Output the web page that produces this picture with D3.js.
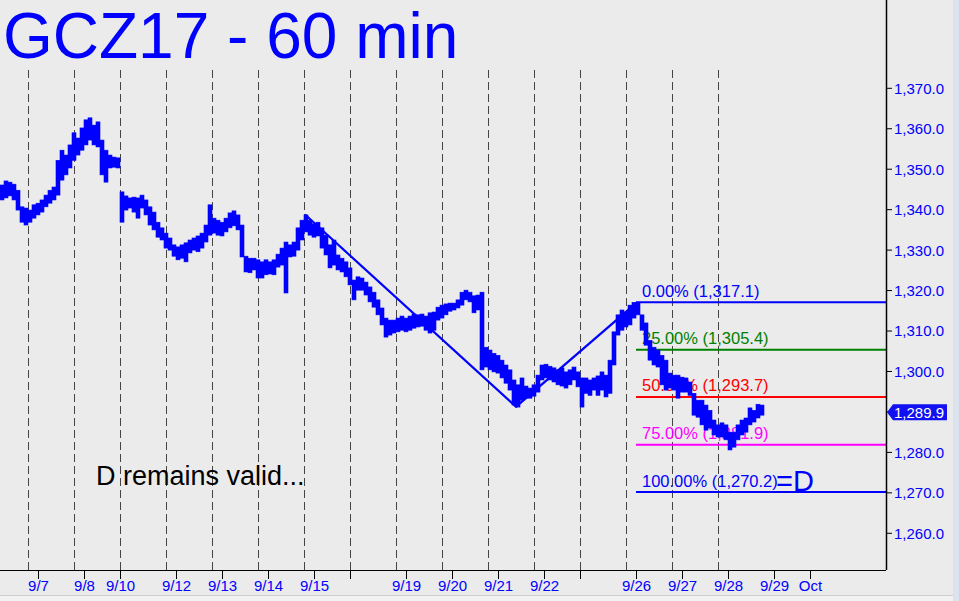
<!DOCTYPE html>
<html><head><meta charset="utf-8">
<script src="https://cdn.jsdelivr.net/npm/d3@7"></script>
<style>html,body{margin:0;padding:0;background:#ebebeb;overflow:hidden}svg{display:block}</style>
</head><body>
<script>
// ---- DATA ----
// 2-hour bars (high / low)
const hi = [1346.1,1347.1,1346.8,1346.3,1344.8,1340.7,1340.4,1339.9,1341.2,1341.6,1342.4,1343.6,1344.8,1345.6,1352.2,1354.7,1353.5,1356.0,1359.0,1357.7,
1360.2,1362.2,1362.7,1360.9,1361.7,1357.2,1354.7,1353.5,1353.0,1352.8,1344.4,1343.4,1342.9,1343.1,1342.9,1343.6,1342.4,1340.7,1339.4,1336.9,
1335.5,1334.2,1333.0,1331.3,1330.8,1331.3,1331.8,1332.5,1333.0,1333.5,1334.2,1336.2,1341.2,1337.9,1337.4,1336.9,1337.9,1339.2,1339.7,1338.7,
1336.2,1328.5,1328.0,1328.0,1327.6,1327.1,1327.6,1327.1,1327.6,1329.0,1330.5,1332.0,1331.3,1332.0,1335.5,1337.4,1338.7,1337.4,1336.5,1336.9,
1335.5,1333.7,1331.3,1332.5,1328.8,1328.0,1327.1,1325.6,1322.6,1323.4,1323.1,1322.1,1320.9,1319.6,1317.7,1315.7,1313.2,1312.7,1312.7,1313.2,
1313.7,1313.2,1313.7,1314.2,1314.0,1314.2,1313.7,1314.5,1314.7,1315.9,1316.4,1316.7,1316.9,1316.9,1317.7,1319.6,1320.1,1319.6,1318.7,1318.9,
1319.6,1306.0,1305.3,1304.5,1304.0,1302.8,1301.6,1300.4,1297.9,1296.7,1298.4,1296.4,1295.9,1296.7,1299.1,1301.6,1301.8,1301.3,1300.9,1300.4,
1300.9,1299.9,1300.4,1301.1,1299.9,1298.4,1298.4,1297.9,1298.4,1298.9,1299.9,1299.1,1302.8,1309.8,1314.0,1315.2,1314.7,1316.4,1317.1,1317.1,
1314.0,1312.0,1307.7,1306.0,1305.3,1304.0,1302.8,1299.6,1299.1,1299.1,1298.6,1298.4,1297.4,1294.6,1292.9,1292.9,1291.7,1290.4,1288.0,1286.8,
1287.3,1286.8,1285.0,1285.0,1286.8,1288.0,1288.5,1291.0,1290.4,1291.9,1291.7];
const lo = [1342.4,1342.9,1343.4,1342.4,1339.9,1336.9,1336.2,1336.9,1337.9,1338.7,1339.4,1340.7,1341.6,1342.4,1343.6,1347.3,1348.6,1350.3,1352.2,1353.5,
1354.7,1356.0,1357.2,1356.0,1355.5,1348.6,1346.8,1350.3,1350.5,1350.3,1336.9,1339.9,1340.4,1339.4,1337.9,1340.4,1338.7,1336.2,1335.0,1333.2,
1332.5,1330.5,1330.0,1328.5,1327.6,1328.0,1327.1,1329.3,1330.0,1329.6,1330.5,1332.0,1333.7,1334.2,1333.7,1333.5,1334.5,1335.5,1336.0,1335.0,
1328.3,1324.6,1324.4,1325.1,1323.1,1323.1,1323.9,1324.1,1323.9,1325.8,1326.3,1319.4,1328.3,1328.5,1330.0,1332.5,1334.5,1333.7,1333.2,1333.5,
1330.5,1328.8,1325.6,1326.3,1325.1,1324.6,1323.4,1321.4,1317.7,1320.1,1320.1,1318.9,1317.2,1315.9,1314.0,1311.5,1308.5,1309.0,1309.5,1309.8,
1310.2,1309.8,1310.2,1310.7,1311.0,1311.2,1310.2,1309.5,1310.2,1312.7,1313.2,1314.0,1314.9,1315.2,1315.7,1316.4,1317.7,1317.2,1314.5,1315.2,
1300.4,1301.1,1300.4,1299.9,1299.6,1298.4,1297.1,1295.4,1291.7,1291.2,1292.9,1293.4,1293.4,1293.9,1294.9,1297.9,1298.4,1297.9,1297.4,1296.7,
1296.4,1295.9,1296.7,1297.9,1296.2,1291.2,1294.6,1294.1,1295.4,1294.1,1295.4,1293.7,1294.6,1301.6,1309.0,1310.2,1311.0,1311.5,1313.2,1314.0,
1310.2,1306.5,1302.8,1301.6,1301.1,1296.7,1295.4,1295.9,1295.4,1293.4,1294.9,1294.9,1294.1,1289.2,1288.7,1286.8,1285.5,1286.0,1284.3,1283.8,
1283.8,1283.1,1280.6,1281.3,1283.1,1284.3,1285.0,1286.8,1287.5,1288.5,1289.2];
const lastPrice = 1289.9;

// x axis (bar index units)
const tickLabels = ["9/7","9/8","9/10","9/12","9/13","9/14","9/15","","9/19","9/20","9/21","9/22","","9/26","9/27","9/28","9/29","Oct"];
const tickBars   = [9.5,21,30,44,55.5,67,78.5,87.5,101.5,113,124.5,136,145,159,170.5,182,193.5,202.5];
const gridBars   = [7,18.5,30,41.5,53,64.5,76,87.5,99,110.5,122,133.5,145,156.5,168,179.5];

// y axis
const yTicks = [1260,1270,1280,1290,1300,1310,1320,1330,1340,1350,1360,1370];

// ABC swing lines
const swingBars   = [76.25,129,159.25];
const swingPrices = [1338.8,1291.3,1317.1];

// Fibonacci levels
const fibPct    = ["0.00%","25.00%","50.00%","75.00%","100.00%"];
const fibValues = [1317.1,1305.4,1293.7,1281.9,1270.2];
const fibColors = ["#0000ff","#008000","#ff0000","#ff00ff","#0000ff"];
const fibStartBar = 159;

// ---- CHART ----
const W = 959, H = 601;
const plotRight = 886, axisY = 570;
const font = "'Liberation Sans', Arial, Helvetica, sans-serif";
const svg = d3.select("body").append("svg").attr("width", W).attr("height", H);

svg.append("rect").attr("width", W).attr("height", H).attr("fill", "#ebebeb");
svg.append("rect").attr("x", 953).attr("y", 0).attr("width", 6).attr("height", H).attr("fill", "#dbe4ee");
svg.append("rect").attr("x", 0).attr("y", 596).attr("width", 953).attr("height", 5).attr("fill", "#f2f2f2");
svg.append("line").attr("x1", 0).attr("x2", 953).attr("y1", 595.5).attr("y2", 595.5).attr("stroke", "#cfcfcf");

const x = d3.scaleLinear().domain([0, hi.length]).range([0, hi.length * 4]);
const y = d3.scaleLinear().domain([1260, 1370]).range([533.3, 88.3]);

// grid
svg.append("g").selectAll("line").data(gridBars).join("line")
  .attr("x1", d => Math.round(x(d)) + 0.5).attr("x2", d => Math.round(x(d)) + 0.5)
  .attr("y1", 70).attr("y2", axisY)
  .attr("stroke", "#444").attr("stroke-width", 1).attr("stroke-dasharray", "8,4");

// fib lines + labels
const fibG = svg.append("g");
fibValues.forEach((v, i) => {
  fibG.append("line").attr("x1", x(fibStartBar)).attr("x2", plotRight)
    .attr("y1", y(v)).attr("y2", y(v)).attr("stroke", fibColors[i]).attr("stroke-width", 2);
  fibG.append("text").attr("x", 642).attr("y", y(v) - 5.5)
    .attr("font-family", font).attr("font-size", 16.5).attr("fill", fibColors[i])
    .text(fibPct[i] + " (" + d3.format(",.1f")(v) + ")");
});
fibG.append("text").attr("x", 776).attr("y", y(fibValues[4]) - 1)
  .attr("font-family", font).attr("font-size", 29).attr("fill", "#0000ff").text("=D");

// price bars
svg.append("g").selectAll("rect").data(hi).join("rect")
  .attr("x", (d, i) => x(i)).attr("width", (d, i) => x(i + 1) - x(i))
  .attr("y", (d, i) => y(hi[i])).attr("height", (d, i) => Math.max(2, y(lo[i]) - y(hi[i])))
  .attr("fill", "#0000ff").attr("stroke", "#0000ff").attr("stroke-width", 0.6);

// swing lines
const swing = swingBars.map((b, i) => [x(b), y(swingPrices[i])]);
svg.append("path").attr("d", d3.line()(swing)).attr("fill", "none")
  .attr("stroke", "#0000ff").attr("stroke-width", 2.2);

// y axis
svg.append("line").attr("x1", plotRight + 0.5).attr("x2", plotRight + 0.5).attr("y1", 0).attr("y2", axisY)
  .attr("stroke", "#000").attr("stroke-width", 1.5);
const yg = svg.append("g");
yTicks.forEach(t => {
  yg.append("line").attr("x1", plotRight).attr("x2", plotRight + 6).attr("y1", y(t)).attr("y2", y(t))
    .attr("stroke", "#000");
  yg.append("text").attr("x", 894).attr("y", y(t)).attr("dy", "0.36em")
    .attr("font-family", font).attr("font-size", 15).attr("fill", "#0000ff")
    .text(d3.format(",.1f")(t));
});

// last price marker
const ly = y(lastPrice);
svg.append("path")
  .attr("d", `M${plotRight+1},${ly} L${plotRight+7},${ly-8} L947,${ly-8} L947,${ly+8} L${plotRight+7},${ly+8} Z`)
  .attr("fill", "#1010f0");
svg.append("text").attr("x", 894).attr("y", ly).attr("dy", "0.36em")
  .attr("font-family", font).attr("font-size", 15).attr("fill", "#ffffff")
  .text(d3.format(",.1f")(lastPrice));

// x axis
svg.append("line").attr("x1", 0).attr("x2", plotRight).attr("y1", axisY + 0.5).attr("y2", axisY + 0.5)
  .attr("stroke", "#000").attr("stroke-width", 1);
const xg = svg.append("g");
tickBars.forEach((b, i) => {
  const px = Math.round(x(b)) + 0.5;
  xg.append("line").attr("x1", px).attr("x2", px).attr("y1", axisY).attr("y2", axisY + 9).attr("stroke", "#000");
  if (tickLabels[i]) {
    xg.append("text").attr("x", px).attr("y", 591).attr("text-anchor", "middle")
      .attr("font-family", font).attr("font-size", 15).attr("fill", "#0000ff").text(tickLabels[i]);
  }
});

// title + note
svg.append("text").attr("x", 3).attr("y", 58).attr("font-family", font).attr("font-size", 64)
  .attr("fill", "#0000ff").text("GCZ17 - 60 min");
svg.append("text").attr("x", 96).attr("y", 485).attr("font-family", font).attr("font-size", 27)
  .attr("fill", "#000").text("D remains valid...");
</script>
</body></html>
